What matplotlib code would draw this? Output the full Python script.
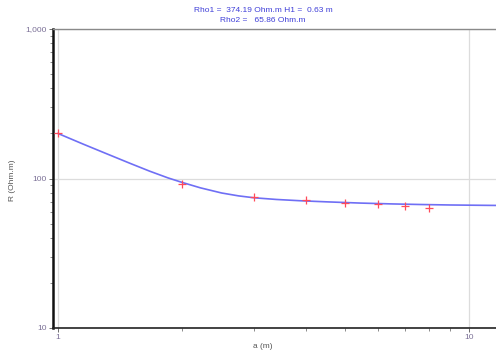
import matplotlib
matplotlib.use("Agg")
import matplotlib.pyplot as plt
from matplotlib.ticker import FixedLocator, LogLocator, NullFormatter

plt.rcParams['font.family'] = ['Liberation Sans', 'DejaVu Sans']

# Measured apparent resistivity (a spacing in m, R in Ohm.m)
spacing = [1, 2, 3, 4, 5, 6, 7, 8]
measured = [201, 92, 75.2, 71.8, 68.5, 67.5, 65.5, 63.6]

# Fitted two-layer model response
model_spacing = [1.0, 1.15, 1.3, 1.5, 1.67, 1.85, 2.0, 2.22, 2.5, 2.75, 3.0,
                 3.4, 3.88, 4.5, 5.43, 6.5, 7.6, 9.0, 11.25, 12.0]
model_r = [200, 170, 148, 126, 112, 101, 94.3, 86.6, 80.0, 76.5, 74.3,
           72.4, 71.0, 69.8, 68.5, 67.6, 67.0, 66.5, 66.1, 66.0]

title_lines = ["Rho1 =  374.19 Ohm.m H1 =  0.63 m", "Rho2 =   65.86 Ohm.m"]
y_ticks = [10, 100, 1000]
y_ticklabels = ["10", "100", "1,000"]
x_ticks = [1, 10]
x_ticklabels = ["1", "10"]

W, H = 496, 356
fig = plt.figure(figsize=(W / 100, H / 100), dpi=100)
left, right, top, bottom = 53, 496, 29, 328
ax = fig.add_axes([left / W, (H - bottom) / H, (right - left) / W, (bottom - top) / H])

ax.set_xscale('log')
ax.set_yscale('log')
ax.set_xlim(0.972, 11.63)
ax.set_ylim(10, 1000)

ax.xaxis.set_major_locator(FixedLocator(x_ticks))
ax.set_xticklabels(x_ticklabels)
ax.yaxis.set_major_locator(FixedLocator(y_ticks))
ax.set_yticklabels(y_ticklabels)
ax.xaxis.set_minor_locator(LogLocator(base=10, subs=range(2, 10)))
ax.yaxis.set_minor_locator(LogLocator(base=10, subs=range(2, 10)))
ax.xaxis.set_minor_formatter(NullFormatter())
ax.yaxis.set_minor_formatter(NullFormatter())

tick_color = '#7a6f96'
ax.tick_params(axis='both', which='major', labelsize=6, colors='#555555',
               labelcolor=tick_color, length=3, width=0.6, direction='out', pad=1.5)
ax.tick_params(axis='both', which='minor', colors='#777777', length=2, width=0.6,
               direction='out')

ax.grid(True, which='major', color='#dcdcdc', linewidth=0.9)
ax.set_axisbelow(True)

ax.spines['left'].set_color('#111111')
ax.spines['left'].set_linewidth(1.8)
ax.spines['bottom'].set_color('#222222')
ax.spines['bottom'].set_linewidth(1.2)
ax.spines['top'].set_color('#8a8a8a')
ax.spines['top'].set_linewidth(1.0)
ax.spines['right'].set_visible(False)

ax.plot(model_spacing, model_r, color='#6f6ff5', linewidth=1.2, zorder=3,
        solid_joinstyle='round')
ax.plot(spacing, measured, linestyle='none', marker='+', markersize=6,
        markeredgewidth=0.9, color='#ff4b5a', zorder=4)

label_color = '#555555'
fig.text(263 / W, 1 - 347 / H, "a (m)", ha='center', va='center',
         fontsize=6, color=label_color)
fig.text(13 / W, 1 - 180 / H, "R (Ohm.m)", ha='center', va='center',
         fontsize=6, color=label_color, rotation=90)

title_color = '#3f3fd8'
fig.text(263 / W, 1 - 10.5 / H, title_lines[0], ha='center', va='center',
         fontsize=6, color=title_color)
fig.text(263 / W, 1 - 21 / H, title_lines[1], ha='center', va='center',
         fontsize=6, color=title_color)

fig.savefig("out.png", dpi=100)
